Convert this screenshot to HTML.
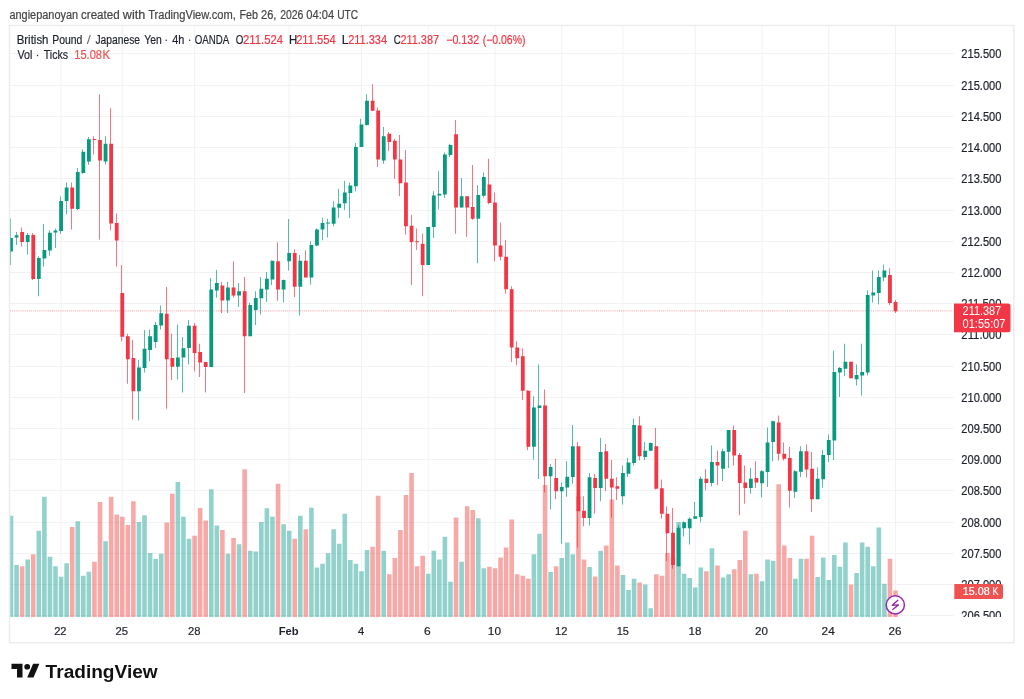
<!DOCTYPE html><html><head><meta charset="utf-8"><title>GBPJPY chart</title><style>html,body{margin:0;padding:0;background:#fff;}svg{display:block;}text{font-family:'Liberation Sans', Arial, sans-serif;}</style></head><body>
<svg width="1024" height="699" viewBox="0 0 1024 699">
<rect width="1024" height="699" fill="#fff"/>
<text x="9.46" y="18.50" font-size="12" fill="#454545" stroke="#454545" stroke-width="0.2" textLength="68.63" lengthAdjust="spacingAndGlyphs">angiepanoyan</text>
<text x="81.04" y="18.50" font-size="12" fill="#454545" stroke="#454545" stroke-width="0.2" textLength="38.62" lengthAdjust="spacingAndGlyphs">created</text>
<text x="122.80" y="18.50" font-size="12" fill="#454545" stroke="#454545" stroke-width="0.2" textLength="22.46" lengthAdjust="spacingAndGlyphs">with</text>
<text x="148.18" y="18.50" font-size="12" fill="#454545" stroke="#454545" stroke-width="0.2" textLength="87.70" lengthAdjust="spacingAndGlyphs">TradingView.com,</text>
<text x="239.44" y="18.50" font-size="12" fill="#454545" stroke="#454545" stroke-width="0.2" textLength="18.52" lengthAdjust="spacingAndGlyphs">Feb</text>
<text x="261.05" y="18.50" font-size="12" fill="#454545" stroke="#454545" stroke-width="0.2" textLength="15.35" lengthAdjust="spacingAndGlyphs">26,</text>
<text x="280.18" y="18.50" font-size="12" fill="#454545" stroke="#454545" stroke-width="0.2" textLength="23.24" lengthAdjust="spacingAndGlyphs">2026</text>
<text x="306.36" y="18.50" font-size="12" fill="#454545" stroke="#454545" stroke-width="0.2" textLength="27.81" lengthAdjust="spacingAndGlyphs">04:04</text>
<text x="337.24" y="18.50" font-size="12" fill="#454545" stroke="#454545" stroke-width="0.2" textLength="20.92" lengthAdjust="spacingAndGlyphs">UTC</text>
<defs><clipPath id="pc"><rect x="10" y="26" width="943.5" height="591"/></clipPath><clipPath id="ac"><rect x="953.5" y="26" width="60" height="591"/></clipPath></defs>
<path d="M10 53.50H953.5M10 85.50H953.5M10 116.50H953.5M10 147.50H953.5M10 178.50H953.5M10 210.50H953.5M10 241.50H953.5M10 272.50H953.5M10 303.50H953.5M10 334.50H953.5M10 366.50H953.5M10 397.50H953.5M10 428.50H953.5M10 459.50H953.5M10 490.50H953.5M10 522.50H953.5M10 553.50H953.5M10 584.50H953.5M10 615.50H953.5M61.07 26V617M122.26 26V617M194.58 26V617M289.15 26V617M361.47 26V617M428.22 26V617M494.98 26V617M561.74 26V617M622.93 26V617M695.25 26V617M762.00 26V617M828.76 26V617M895.52 26V617" stroke="#f2f2f4" stroke-width="1" fill="none"/>
<g clip-path="url(#pc)">
<path d="M8.70 515.75H13.30V617H8.70ZM14.26 565.00H18.86V617H14.26ZM25.39 559.50H29.99V617H25.39ZM36.52 530.75H41.11V617H36.52ZM42.08 496.75H46.68V617H42.08ZM47.64 556.75H52.24V617H47.64ZM53.20 566.25H57.80V617H53.20ZM58.77 576.75H63.37V617H58.77ZM64.33 563.25H68.93V617H64.33ZM75.46 521.25H80.06V617H75.46ZM81.02 575.75H85.62V617H81.02ZM86.58 571.75H91.18V617H86.58ZM103.27 541.25H107.87V617H103.27ZM136.65 522.00H141.25V617H136.65ZM142.21 515.25H146.81V617H142.21ZM147.77 553.00H152.38V617H147.77ZM153.34 559.00H157.94V617H153.34ZM158.90 553.75H163.50V617H158.90ZM175.59 482.00H180.19V617H175.59ZM181.15 516.75H185.75V617H181.15ZM186.72 538.75H191.32V617H186.72ZM208.97 489.25H213.57V617H208.97ZM214.53 525.50H219.13V617H214.53ZM225.66 553.75H230.26V617H225.66ZM236.78 544.25H241.38V617H236.78ZM247.91 550.75H252.51V617H247.91ZM253.47 551.50H258.07V617H253.47ZM259.03 522.00H263.63V617H259.03ZM264.60 508.25H269.20V617H264.60ZM270.16 516.75H274.76V617H270.16ZM281.29 524.25H285.89V617H281.29ZM286.85 530.75H291.45V617H286.85ZM297.98 515.75H302.58V617H297.98ZM309.10 507.75H313.70V617H309.10ZM314.66 567.50H319.26V617H314.66ZM320.23 563.75H324.83V617H320.23ZM325.79 553.25H330.39V617H325.79ZM331.35 529.25H335.95V617H331.35ZM336.92 543.75H341.52V617H336.92ZM342.48 513.75H347.08V617H342.48ZM348.04 560.00H352.64V617H348.04ZM353.61 563.75H358.21V617H353.61ZM359.17 571.25H363.77V617H359.17ZM364.73 550.00H369.33V617H364.73ZM381.42 550.75H386.02V617H381.42ZM425.92 573.75H430.52V617H425.92ZM431.49 550.75H436.09V617H431.49ZM437.05 559.50H441.65V617H437.05ZM442.61 536.75H447.21V617H442.61ZM448.18 581.75H452.78V617H448.18ZM459.30 561.75H463.90V617H459.30ZM475.99 518.25H480.59V617H475.99ZM481.55 568.25H486.15V617H481.55ZM531.62 554.25H536.22V617H531.62ZM537.19 533.75H541.78V617H537.19ZM548.31 572.00H552.91V617H548.31ZM559.44 558.00H564.04V617H559.44ZM565.00 542.50H569.60V617H565.00ZM570.56 554.25H575.16V617H570.56ZM587.25 567.00H591.85V617H587.25ZM598.38 550.75H602.98V617H598.38ZM620.63 575.00H625.23V617H620.63ZM626.19 590.00H630.79V617H626.19ZM631.76 578.75H636.36V617H631.76ZM642.88 584.50H647.48V617H642.88ZM648.45 608.25H653.04V617H648.45ZM676.26 522.00H680.86V617H676.26ZM681.82 573.75H686.42V617H681.82ZM687.39 578.00H691.99V617H687.39ZM692.95 587.50H697.55V617H692.95ZM698.51 567.50H703.11V617H698.51ZM709.64 548.25H714.24V617H709.64ZM720.76 577.50H725.36V617H720.76ZM726.33 574.25H730.93V617H726.33ZM748.58 574.25H753.18V617H748.58ZM759.71 581.25H764.30V617H759.71ZM765.27 559.50H769.87V617H765.27ZM770.83 560.75H775.43V617H770.83ZM793.08 578.75H797.68V617H793.08ZM798.65 558.75H803.25V617H798.65ZM815.34 577.00H819.93V617H815.34ZM820.90 557.50H825.50V617H820.90ZM826.46 580.00H831.06V617H826.46ZM832.02 555.00H836.62V617H832.02ZM837.59 566.75H842.19V617H837.59ZM843.15 542.50H847.75V617H843.15ZM854.28 573.00H858.88V617H854.28ZM859.84 542.50H864.44V617H859.84ZM865.40 546.75H870.00V617H865.40ZM870.97 566.25H875.56V617H870.97ZM876.53 527.50H881.13V617H876.53ZM882.09 583.75H886.69V617H882.09Z" fill="rgba(38,166,154,0.5)"/>
<path d="M19.83 566.25H24.43V617H19.83ZM30.95 554.25H35.55V617H30.95ZM69.89 527.00H74.49V617H69.89ZM92.14 561.75H96.74V617H92.14ZM97.71 502.00H102.31V617H97.71ZM108.83 496.75H113.43V617H108.83ZM114.40 514.50H119.00V617H114.40ZM119.96 516.75H124.56V617H119.96ZM125.52 525.00H130.12V617H125.52ZM131.09 501.25H135.69V617H131.09ZM164.46 522.50H169.06V617H164.46ZM170.03 493.75H174.63V617H170.03ZM192.28 535.75H196.88V617H192.28ZM197.84 508.00H202.44V617H197.84ZM203.40 520.50H208.00V617H203.40ZM220.09 530.00H224.69V617H220.09ZM231.22 538.00H235.82V617H231.22ZM242.35 469.25H246.95V617H242.35ZM275.72 483.75H280.32V617H275.72ZM292.41 538.75H297.01V617H292.41ZM303.54 529.25H308.14V617H303.54ZM370.29 546.75H374.89V617H370.29ZM375.86 495.75H380.46V617H375.86ZM386.98 574.25H391.58V617H386.98ZM392.55 558.00H397.15V617H392.55ZM398.11 530.00H402.71V617H398.11ZM403.67 495.00H408.27V617H403.67ZM409.24 473.00H413.84V617H409.24ZM414.80 566.25H419.40V617H414.80ZM420.36 555.75H424.96V617H420.36ZM453.74 517.50H458.34V617H453.74ZM464.87 506.25H469.47V617H464.87ZM470.43 510.00H475.03V617H470.43ZM487.12 566.75H491.72V617H487.12ZM492.68 568.25H497.28V617H492.68ZM498.24 557.50H502.84V617H498.24ZM503.81 547.50H508.41V617H503.81ZM509.37 519.50H513.97V617H509.37ZM514.93 574.25H519.53V617H514.93ZM520.50 575.75H525.10V617H520.50ZM526.06 578.75H530.66V617H526.06ZM542.75 485.00H547.35V617H542.75ZM553.87 566.25H558.47V617H553.87ZM576.13 496.50H580.73V617H576.13ZM581.69 559.50H586.29V617H581.69ZM592.82 576.50H597.41V617H592.82ZM603.94 545.50H608.54V617H603.94ZM609.50 499.50H614.10V617H609.50ZM615.07 565.50H619.67V617H615.07ZM637.32 582.50H641.92V617H637.32ZM654.01 574.25H658.61V617H654.01ZM659.57 575.75H664.17V617H659.57ZM665.13 553.00H669.73V617H665.13ZM670.70 557.50H675.30V617H670.70ZM704.08 571.25H708.67V617H704.08ZM715.20 565.50H719.80V617H715.20ZM731.89 569.25H736.49V617H731.89ZM737.45 560.00H742.05V617H737.45ZM743.02 530.75H747.62V617H743.02ZM754.14 573.75H758.74V617H754.14ZM776.39 484.25H780.99V617H776.39ZM781.96 545.50H786.56V617H781.96ZM787.52 558.00H792.12V617H787.52ZM804.21 558.75H808.81V617H804.21ZM809.77 535.75H814.37V617H809.77ZM848.71 584.50H853.31V617H848.71ZM887.65 558.75H892.25V617H887.65ZM893.22 590.50H897.82V617H893.22Z" fill="rgba(239,83,80,0.5)"/>
<path d="M10 310.9H953.5" stroke="#F23645" stroke-width="1" stroke-dasharray="1 1.1" opacity="0.5"/>
<path d="M10.50 218.50V265.00M16.50 232.00V245.00M27.50 233.00V254.60M38.50 256.25V296.25M43.50 224.00V266.50M49.50 230.25V255.50M55.50 228.50V248.10M60.50 196.50V233.75M66.50 182.50V214.60M77.50 168.00V210.00M82.50 149.25V173.75M88.50 137.00V165.00M105.50 136.25V164.50M138.50 360.00V420.50M144.50 330.00V372.50M149.50 329.50V361.25M155.50 322.00V348.00M160.50 305.50V329.50M177.50 324.50V379.50M182.50 337.00V392.50M188.50 320.00V364.50M210.50 278.00V367.00M216.50 270.00V297.50M227.50 282.00V313.00M238.50 283.00V307.00M249.50 302.50V336.25M255.50 291.25V325.00M260.50 277.00V314.50M266.50 272.00V302.00M271.50 260.75V285.00M283.50 279.50V302.50M288.50 219.00V270.50M299.50 255.00V315.50M310.50 241.25V284.50M316.50 228.50V246.25M322.50 217.75V240.25M327.50 218.75V237.50M333.50 201.25V226.25M338.50 188.75V218.00M344.50 180.75V210.00M349.50 182.50V218.00M355.50 143.00V191.25M360.50 118.75V147.00M366.50 94.25V125.50M383.50 127.00V163.75M427.50 227.00V265.00M433.50 191.25V238.00M438.50 171.25V209.50M444.50 152.50V198.00M449.50 143.75V157.00M461.50 178.00V207.50M477.50 185.00V263.25M483.50 172.50V197.50M533.50 396.25V459.50M538.50 364.50V479.00M550.50 464.00V509.50M561.50 482.50V543.75M566.50 461.25V496.75M572.50 425.00V483.75M589.50 473.00V525.50M600.50 438.10V501.25M622.50 465.50V504.50M627.50 458.00V477.00M633.50 418.75V465.50M644.50 442.00V460.00M650.50 442.50V451.00M678.50 525.00V566.50M683.50 521.25V536.50M689.50 517.50V544.50M694.50 502.00V518.75M700.50 476.25V522.25M711.50 445.50V486.25M722.50 448.75V481.00M728.50 430.00V468.00M750.50 468.00V493.75M761.50 470.00V497.50M767.50 427.50V487.00M772.50 420.50V461.25M794.50 470.00V498.00M800.50 446.25V477.00M817.50 467.50V499.25M822.50 450.00V487.50M828.50 434.50V462.00M833.50 350.50V460.00M839.50 367.00V397.00M844.50 343.75V376.25M856.50 364.50V385.50M861.50 343.75V395.50M867.50 290.50V375.50M872.50 270.50V302.50M878.50 270.50V304.50M883.50 264.50V281.25" stroke="#089981" stroke-width="1.05" opacity="0.68" fill="none"/>
<path d="M9.10 238.10h3.8v13.50h-3.8ZM14.66 235.25h3.8v2.25h-3.8ZM25.79 235.00h3.8v7.10h-3.8ZM36.91 258.00h3.8v21.00h-3.8ZM42.48 250.00h3.8v8.50h-3.8ZM48.04 232.75h3.8v17.65h-3.8ZM53.60 230.60h3.8v1.90h-3.8ZM59.17 200.90h3.8v30.00h-3.8ZM64.73 187.50h3.8v13.60h-3.8ZM75.86 172.00h3.8v37.00h-3.8ZM81.42 151.75h3.8v21.25h-3.8ZM86.98 139.25h3.8v22.25h-3.8ZM103.67 143.75h3.8v17.75h-3.8ZM137.05 367.50h3.8v23.75h-3.8ZM142.61 348.75h3.8v19.25h-3.8ZM148.17 336.25h3.8v13.75h-3.8ZM153.74 325.00h3.8v17.00h-3.8ZM159.30 313.25h3.8v12.25h-3.8ZM175.99 357.50h3.8v9.25h-3.8ZM181.55 348.25h3.8v9.25h-3.8ZM187.12 325.75h3.8v22.25h-3.8ZM209.37 289.50h3.8v77.50h-3.8ZM214.93 283.00h3.8v7.50h-3.8ZM226.06 287.50h3.8v13.00h-3.8ZM237.18 291.25h3.8v4.25h-3.8ZM248.31 305.00h3.8v31.25h-3.8ZM253.87 298.00h3.8v12.00h-3.8ZM259.44 288.75h3.8v9.50h-3.8ZM265.00 278.75h3.8v10.75h-3.8ZM270.56 260.75h3.8v18.75h-3.8ZM281.69 280.00h3.8v9.50h-3.8ZM287.25 253.00h3.8v8.25h-3.8ZM298.38 260.75h3.8v26.00h-3.8ZM309.50 245.00h3.8v32.50h-3.8ZM315.06 229.50h3.8v16.00h-3.8ZM320.63 223.00h3.8v6.50h-3.8ZM326.19 222.50h3.8v1.00h-3.8ZM331.75 207.50h3.8v16.25h-3.8ZM337.32 203.75h3.8v4.00h-3.8ZM342.88 192.50h3.8v10.75h-3.8ZM348.44 185.50h3.8v7.50h-3.8ZM354.01 147.00h3.8v39.25h-3.8ZM359.57 124.50h3.8v22.50h-3.8ZM365.13 100.75h3.8v24.25h-3.8ZM381.82 136.25h3.8v24.25h-3.8ZM426.32 227.00h3.8v38.00h-3.8ZM431.89 195.50h3.8v31.50h-3.8ZM437.45 193.75h3.8v1.75h-3.8ZM443.01 154.50h3.8v40.00h-3.8ZM448.58 145.00h3.8v10.00h-3.8ZM459.70 196.25h3.8v11.25h-3.8ZM476.39 195.00h3.8v23.75h-3.8ZM481.95 177.00h3.8v18.75h-3.8ZM532.02 407.50h3.8v39.25h-3.8ZM537.59 405.50h3.8v2.50h-3.8ZM548.71 467.00h3.8v9.25h-3.8ZM559.84 487.00h3.8v4.25h-3.8ZM565.40 476.75h3.8v10.75h-3.8ZM570.96 446.25h3.8v30.75h-3.8ZM587.65 477.25h3.8v40.75h-3.8ZM598.78 452.00h3.8v36.00h-3.8ZM621.03 473.00h3.8v23.25h-3.8ZM626.59 462.50h3.8v11.25h-3.8ZM632.16 425.00h3.8v38.00h-3.8ZM643.28 450.75h3.8v6.25h-3.8ZM648.85 443.00h3.8v7.75h-3.8ZM676.66 527.75h3.8v38.50h-3.8ZM682.22 522.20h3.8v6.00h-3.8ZM687.79 518.75h3.8v9.45h-3.8ZM693.35 516.25h3.8v2.50h-3.8ZM698.91 478.75h3.8v38.25h-3.8ZM710.04 462.00h3.8v21.00h-3.8ZM721.16 451.25h3.8v17.50h-3.8ZM726.73 430.00h3.8v21.75h-3.8ZM748.98 478.75h3.8v9.25h-3.8ZM760.11 471.25h3.8v12.00h-3.8ZM765.67 442.50h3.8v29.50h-3.8ZM771.23 421.25h3.8v20.75h-3.8ZM793.48 471.25h3.8v20.50h-3.8ZM799.05 451.25h3.8v20.50h-3.8ZM815.74 478.75h3.8v20.50h-3.8ZM821.30 455.00h3.8v24.25h-3.8ZM826.86 440.00h3.8v15.00h-3.8ZM832.42 372.00h3.8v68.50h-3.8ZM837.99 368.00h3.8v4.50h-3.8ZM843.55 361.75h3.8v7.00h-3.8ZM854.68 375.00h3.8v4.25h-3.8ZM860.24 372.00h3.8v3.50h-3.8ZM865.80 295.00h3.8v77.50h-3.8ZM871.37 292.50h3.8v3.00h-3.8ZM876.93 277.00h3.8v16.00h-3.8ZM882.49 270.50h3.8v7.00h-3.8Z" fill="#089981"/>
<path d="M21.50 227.50V246.50M32.50 233.00V280.00M71.50 182.50V229.60M93.50 136.25V154.50M99.50 94.25V239.50M110.50 108.25V230.20M116.50 213.60V266.40M121.50 265.00V341.25M127.50 333.75V383.75M132.50 340.00V419.50M166.50 287.00V408.75M171.50 333.75V380.00M194.50 323.00V371.25M199.50 343.75V377.00M205.50 362.00V392.50M221.50 282.00V313.00M233.50 261.25V297.50M244.50 277.00V393.00M277.50 242.25V300.75M294.50 249.25V297.00M305.50 250.25V277.50M372.50 84.25V110.75M377.50 107.50V167.00M388.50 132.00V151.25M394.50 138.75V178.75M399.50 135.00V196.25M405.50 150.00V234.50M411.50 215.00V285.00M416.50 228.50V250.00M422.50 233.50V296.25M455.50 120.00V233.75M466.50 196.25V236.75M472.50 165.00V220.00M488.50 158.75V204.25M494.50 192.50V261.25M500.50 222.50V260.50M505.50 240.00V293.75M511.50 286.25V362.00M516.50 341.25V365.50M522.50 348.50V400.00M527.50 390.00V450.25M544.50 389.50V492.50M555.50 458.75V499.25M577.50 442.00V547.50M583.50 496.25V526.25M594.50 474.00V513.75M605.50 444.00V491.25M611.50 460.00V517.50M616.50 477.25V500.00M639.50 416.25V460.50M655.50 428.00V489.50M661.50 479.50V518.75M666.50 506.25V561.25M672.50 508.00V568.75M705.50 469.00V490.25M717.50 450.50V485.25M733.50 425.50V465.75M739.50 453.00V515.25M744.50 465.50V503.75M755.50 461.25V488.00M778.50 415.50V460.50M783.50 442.50V460.50M789.50 447.00V507.50M806.50 444.50V477.50M811.50 452.00V512.00M850.50 361.75V378.25M889.50 268.25V305.00M895.50 300.00V313.00" stroke="#F23645" stroke-width="1.05" opacity="0.68" fill="none"/>
<path d="M20.23 232.10h3.8v9.80h-3.8ZM31.35 235.00h3.8v44.00h-3.8ZM70.29 187.50h3.8v21.25h-3.8ZM92.54 139.00h3.8v1.00h-3.8ZM98.11 140.00h3.8v20.50h-3.8ZM109.23 143.75h3.8v79.75h-3.8ZM114.80 223.00h3.8v17.50h-3.8ZM120.36 293.00h3.8v43.75h-3.8ZM125.92 336.25h3.8v23.00h-3.8ZM131.49 358.00h3.8v33.25h-3.8ZM164.86 313.75h3.8v45.50h-3.8ZM170.43 358.00h3.8v8.75h-3.8ZM192.68 325.75h3.8v27.25h-3.8ZM198.24 352.00h3.8v10.50h-3.8ZM203.80 362.00h3.8v5.00h-3.8ZM220.49 285.50h3.8v15.00h-3.8ZM231.62 287.50h3.8v8.00h-3.8ZM242.75 291.25h3.8v45.00h-3.8ZM276.12 261.25h3.8v28.25h-3.8ZM292.81 253.00h3.8v33.75h-3.8ZM303.94 260.75h3.8v16.75h-3.8ZM370.69 100.75h3.8v10.00h-3.8ZM376.26 110.50h3.8v49.00h-3.8ZM387.38 133.75h3.8v8.25h-3.8ZM392.95 140.75h3.8v18.75h-3.8ZM398.51 159.50h3.8v23.75h-3.8ZM404.07 182.50h3.8v43.75h-3.8ZM409.64 225.75h3.8v16.25h-3.8ZM415.20 241.25h3.8v1.00h-3.8ZM420.76 243.75h3.8v21.25h-3.8ZM454.14 134.25h3.8v73.25h-3.8ZM465.27 196.25h3.8v11.25h-3.8ZM470.83 207.00h3.8v11.75h-3.8ZM487.52 184.50h3.8v18.50h-3.8ZM493.08 202.50h3.8v43.00h-3.8ZM498.64 245.50h3.8v11.25h-3.8ZM504.21 256.75h3.8v32.50h-3.8ZM509.77 289.25h3.8v58.25h-3.8ZM515.33 347.50h3.8v10.75h-3.8ZM520.90 356.25h3.8v34.50h-3.8ZM526.46 390.75h3.8v56.00h-3.8ZM543.15 405.50h3.8v70.75h-3.8ZM554.27 478.00h3.8v13.25h-3.8ZM576.53 446.25h3.8v65.00h-3.8ZM582.09 510.75h3.8v7.25h-3.8ZM593.22 478.00h3.8v10.00h-3.8ZM604.34 451.25h3.8v27.50h-3.8ZM609.90 478.75h3.8v8.75h-3.8ZM615.47 486.25h3.8v2.50h-3.8ZM637.72 425.50h3.8v30.75h-3.8ZM654.41 446.25h3.8v42.50h-3.8ZM659.97 488.25h3.8v25.50h-3.8ZM665.53 513.75h3.8v19.50h-3.8ZM671.10 532.75h3.8v32.25h-3.8ZM704.48 478.75h3.8v4.25h-3.8ZM715.60 462.00h3.8v3.50h-3.8ZM732.29 430.00h3.8v25.50h-3.8ZM737.85 455.00h3.8v28.00h-3.8ZM743.42 482.50h3.8v5.50h-3.8ZM754.54 478.00h3.8v4.50h-3.8ZM776.79 422.50h3.8v31.25h-3.8ZM782.36 453.75h3.8v5.00h-3.8ZM787.92 458.00h3.8v32.75h-3.8ZM804.61 451.25h3.8v18.25h-3.8ZM810.17 468.75h3.8v30.50h-3.8ZM849.11 361.75h3.8v16.50h-3.8ZM888.05 275.00h3.8v28.00h-3.8ZM893.62 302.00h3.8v9.25h-3.8Z" fill="#F23645"/>
</g>
<g transform="translate(895.3 604.9)"><circle r="9.1" fill="#fff" stroke="#9C27B0" stroke-width="1.5"/><path d="M2.5 -4.6 L-3.0 0.35 L3.2 0.0 L-2.5 4.6" fill="none" stroke="#9C27B0" stroke-width="1.35" stroke-linecap="round" stroke-linejoin="round"/></g>
<g clip-path="url(#ac)">
<text x="961.34" y="57.90" font-size="12" fill="#1e222d" stroke="#1e222d" stroke-width="0.2" textLength="40.14" lengthAdjust="spacingAndGlyphs">215.500</text>
<text x="961.34" y="89.90" font-size="12" fill="#1e222d" stroke="#1e222d" stroke-width="0.2" textLength="40.14" lengthAdjust="spacingAndGlyphs">215.000</text>
<text x="961.34" y="120.90" font-size="12" fill="#1e222d" stroke="#1e222d" stroke-width="0.2" textLength="40.14" lengthAdjust="spacingAndGlyphs">214.500</text>
<text x="961.34" y="151.90" font-size="12" fill="#1e222d" stroke="#1e222d" stroke-width="0.2" textLength="40.14" lengthAdjust="spacingAndGlyphs">214.000</text>
<text x="961.34" y="182.90" font-size="12" fill="#1e222d" stroke="#1e222d" stroke-width="0.2" textLength="40.14" lengthAdjust="spacingAndGlyphs">213.500</text>
<text x="961.34" y="214.90" font-size="12" fill="#1e222d" stroke="#1e222d" stroke-width="0.2" textLength="40.14" lengthAdjust="spacingAndGlyphs">213.000</text>
<text x="961.34" y="245.90" font-size="12" fill="#1e222d" stroke="#1e222d" stroke-width="0.2" textLength="40.14" lengthAdjust="spacingAndGlyphs">212.500</text>
<text x="961.34" y="276.90" font-size="12" fill="#1e222d" stroke="#1e222d" stroke-width="0.2" textLength="40.14" lengthAdjust="spacingAndGlyphs">212.000</text>
<text x="961.33" y="307.90" font-size="12" fill="#1e222d" stroke="#1e222d" stroke-width="0.2" textLength="40.17" lengthAdjust="spacingAndGlyphs">211.500</text>
<text x="961.33" y="338.90" font-size="12" fill="#1e222d" stroke="#1e222d" stroke-width="0.2" textLength="40.17" lengthAdjust="spacingAndGlyphs">211.000</text>
<text x="961.34" y="370.90" font-size="12" fill="#1e222d" stroke="#1e222d" stroke-width="0.2" textLength="40.14" lengthAdjust="spacingAndGlyphs">210.500</text>
<text x="961.34" y="401.90" font-size="12" fill="#1e222d" stroke="#1e222d" stroke-width="0.2" textLength="40.14" lengthAdjust="spacingAndGlyphs">210.000</text>
<text x="961.34" y="432.90" font-size="12" fill="#1e222d" stroke="#1e222d" stroke-width="0.2" textLength="40.14" lengthAdjust="spacingAndGlyphs">209.500</text>
<text x="961.34" y="463.90" font-size="12" fill="#1e222d" stroke="#1e222d" stroke-width="0.2" textLength="40.14" lengthAdjust="spacingAndGlyphs">209.000</text>
<text x="961.34" y="494.90" font-size="12" fill="#1e222d" stroke="#1e222d" stroke-width="0.2" textLength="40.14" lengthAdjust="spacingAndGlyphs">208.500</text>
<text x="961.34" y="526.90" font-size="12" fill="#1e222d" stroke="#1e222d" stroke-width="0.2" textLength="40.14" lengthAdjust="spacingAndGlyphs">208.000</text>
<text x="961.34" y="557.90" font-size="12" fill="#1e222d" stroke="#1e222d" stroke-width="0.2" textLength="40.14" lengthAdjust="spacingAndGlyphs">207.500</text>
<text x="961.34" y="588.90" font-size="12" fill="#1e222d" stroke="#1e222d" stroke-width="0.2" textLength="40.14" lengthAdjust="spacingAndGlyphs">207.000</text>
<text x="961.34" y="619.90" font-size="12" fill="#1e222d" stroke="#1e222d" stroke-width="0.2" textLength="40.14" lengthAdjust="spacingAndGlyphs">206.500</text>
</g>
<path d="M954 303.4H1008a2.5 2.5 0 0 1 2.5 2.5V329.7a2.5 2.5 0 0 1 -2.5 2.5H954Z" fill="#F23645"/>
<text x="962.6" y="315.3" font-size="12" fill="#fff" textLength="38.6" lengthAdjust="spacingAndGlyphs">211.387</text>
<text x="962.6" y="328.3" font-size="12" fill="#fff" textLength="42.9" lengthAdjust="spacingAndGlyphs">01:55:07</text>
<path d="M954.3 584H1001a2 2 0 0 1 2 2V597a2 2 0 0 1 -2 2H954.3Z" fill="#ef5350"/>
<text x="962.69" y="595.40" font-size="11.5" fill="#fff" stroke="#fff" stroke-width="0.2" textLength="26.97" lengthAdjust="spacingAndGlyphs">15.08</text>
<text x="992.39" y="595.40" font-size="11.5" fill="#fff" stroke="#fff" stroke-width="0.2" textLength="5.92" lengthAdjust="spacingAndGlyphs">K</text>
<text x="54.15" y="634.80" font-size="11.8" fill="#1e222d" stroke="#1e222d" stroke-width="0.2" textLength="12.33" lengthAdjust="spacingAndGlyphs">22</text>
<text x="115.54" y="634.80" font-size="11.8" fill="#1e222d" stroke="#1e222d" stroke-width="0.2" textLength="12.54" lengthAdjust="spacingAndGlyphs">25</text>
<text x="187.94" y="634.80" font-size="11.8" fill="#1e222d" stroke="#1e222d" stroke-width="0.2" textLength="12.43" lengthAdjust="spacingAndGlyphs">28</text>
<text x="278.67" y="634.80" font-size="11.8" font-weight="700" fill="#1e222d" textLength="19.91" lengthAdjust="spacingAndGlyphs">Feb</text>
<text x="357.88" y="634.80" font-size="11.8" fill="#1e222d" stroke="#1e222d" stroke-width="0.2" textLength="6.22" lengthAdjust="spacingAndGlyphs">4</text>
<text x="424.10" y="634.80" font-size="11.8" fill="#1e222d" stroke="#1e222d" stroke-width="0.2" textLength="6.70" lengthAdjust="spacingAndGlyphs">6</text>
<text x="487.86" y="634.80" font-size="11.8" fill="#1e222d" stroke="#1e222d" stroke-width="0.2" textLength="13.18" lengthAdjust="spacingAndGlyphs">10</text>
<text x="555.06" y="634.80" font-size="11.8" fill="#1e222d" stroke="#1e222d" stroke-width="0.2" textLength="12.42" lengthAdjust="spacingAndGlyphs">12</text>
<text x="616.68" y="634.80" font-size="11.8" fill="#1e222d" stroke="#1e222d" stroke-width="0.2" textLength="12.19" lengthAdjust="spacingAndGlyphs">15</text>
<text x="688.53" y="634.80" font-size="11.8" fill="#1e222d" stroke="#1e222d" stroke-width="0.2" textLength="12.86" lengthAdjust="spacingAndGlyphs">18</text>
<text x="755.02" y="634.80" font-size="11.8" fill="#1e222d" stroke="#1e222d" stroke-width="0.2" textLength="12.91" lengthAdjust="spacingAndGlyphs">20</text>
<text x="821.61" y="634.80" font-size="11.8" fill="#1e222d" stroke="#1e222d" stroke-width="0.2" textLength="13.18" lengthAdjust="spacingAndGlyphs">24</text>
<text x="888.42" y="634.80" font-size="11.8" fill="#1e222d" stroke="#1e222d" stroke-width="0.2" textLength="12.98" lengthAdjust="spacingAndGlyphs">26</text>
<rect x="9.5" y="25.5" width="1004.3" height="1017.5" fill="none" stroke="#ededee" stroke-width="1" style="display:none"/>
<path d="M9.5 25.5H1013.8V642.8H9.5Z" fill="none" stroke="#ededee" stroke-width="1.6"/>
<text x="16.68" y="43.80" font-size="12" fill="#1e222d" stroke="#1e222d" stroke-width="0.2" textLength="31.80" lengthAdjust="spacingAndGlyphs">British</text>
<text x="52.27" y="43.80" font-size="12" fill="#1e222d" stroke="#1e222d" stroke-width="0.2" textLength="30.13" lengthAdjust="spacingAndGlyphs">Pound</text>
<text x="95.45" y="43.80" font-size="12" fill="#1e222d" stroke="#1e222d" stroke-width="0.2" textLength="44.54" lengthAdjust="spacingAndGlyphs">Japanese</text>
<text x="144.24" y="43.80" font-size="12" fill="#1e222d" stroke="#1e222d" stroke-width="0.2" textLength="17.46" lengthAdjust="spacingAndGlyphs">Yen</text>
<text x="172.28" y="43.80" font-size="12" fill="#1e222d" stroke="#1e222d" stroke-width="0.2" textLength="12.15" lengthAdjust="spacingAndGlyphs">4h</text>
<text x="194.76" y="43.80" font-size="12" fill="#1e222d" stroke="#1e222d" stroke-width="0.2" textLength="34.45" lengthAdjust="spacingAndGlyphs">OANDA</text>
<text x="235.86" y="43.80" font-size="12" fill="#1e222d" stroke="#1e222d" stroke-width="0.2" textLength="7.61" lengthAdjust="spacingAndGlyphs">O</text>
<text x="243.03" y="43.80" font-size="12" fill="#F23645" stroke="#F23645" stroke-width="0.2" textLength="40.01" lengthAdjust="spacingAndGlyphs">211.524</text>
<text x="288.99" y="43.80" font-size="12" fill="#1e222d" stroke="#1e222d" stroke-width="0.2" textLength="8.25" lengthAdjust="spacingAndGlyphs">H</text>
<text x="296.14" y="43.80" font-size="12" fill="#F23645" stroke="#F23645" stroke-width="0.2" textLength="39.60" lengthAdjust="spacingAndGlyphs">211.554</text>
<text x="341.81" y="43.80" font-size="12" fill="#1e222d" stroke="#1e222d" stroke-width="0.2" textLength="6.87" lengthAdjust="spacingAndGlyphs">L</text>
<text x="348.15" y="43.80" font-size="12" fill="#F23645" stroke="#F23645" stroke-width="0.2" textLength="38.99" lengthAdjust="spacingAndGlyphs">211.334</text>
<text x="393.71" y="43.80" font-size="12" fill="#1e222d" stroke="#1e222d" stroke-width="0.2" textLength="7.05" lengthAdjust="spacingAndGlyphs">C</text>
<text x="400.45" y="43.80" font-size="12" fill="#F23645" stroke="#F23645" stroke-width="0.2" textLength="38.60" lengthAdjust="spacingAndGlyphs">211.387</text>
<text x="446.17" y="43.80" font-size="12" fill="#F23645" stroke="#F23645" stroke-width="0.2" textLength="32.98" lengthAdjust="spacingAndGlyphs">−0.132</text>
<text x="482.77" y="43.80" font-size="12" fill="#F23645" stroke="#F23645" stroke-width="0.2" textLength="42.66" lengthAdjust="spacingAndGlyphs">(−0.06%)</text>
<text x="86.80" y="43.80" font-size="12" fill="#1e222d" opacity="0.7" textLength="4.07" lengthAdjust="spacingAndGlyphs">/</text>
<circle cx="166.2" cy="40.20" r="0.75" fill="#1e222d"/>
<circle cx="189.6" cy="40.20" r="0.75" fill="#1e222d"/>
<text x="17.55" y="59.10" font-size="12" fill="#1e222d" stroke="#1e222d" stroke-width="0.2" textLength="14.85" lengthAdjust="spacingAndGlyphs">Vol</text>
<text x="43.79" y="59.10" font-size="12" fill="#1e222d" stroke="#1e222d" stroke-width="0.2" textLength="24.29" lengthAdjust="spacingAndGlyphs">Ticks</text>
<circle cx="37.5" cy="55.50" r="0.75" fill="#1e222d"/>
<text x="74.27" y="59.10" font-size="12" fill="#ef5350" stroke="#ef5350" stroke-width="0.2" textLength="27.70" lengthAdjust="spacingAndGlyphs">15.08</text>
<text x="102.38" y="59.10" font-size="12" fill="#ef5350" stroke="#ef5350" stroke-width="0.2" textLength="7.66" lengthAdjust="spacingAndGlyphs">K</text>
<g transform="translate(11.5 660.6) scale(0.786 0.77)" fill="#111"><path d="M14 22H7V11H0V4h14v18zM28 22h-8l7.5-18h8L28 22z"/><circle cx="20" cy="8" r="3.7"/></g>
<text x="45.61" y="677.60" font-size="19.2" font-weight="700" fill="#111" textLength="112.04" lengthAdjust="spacingAndGlyphs">TradingView</text>
</svg></body></html>
